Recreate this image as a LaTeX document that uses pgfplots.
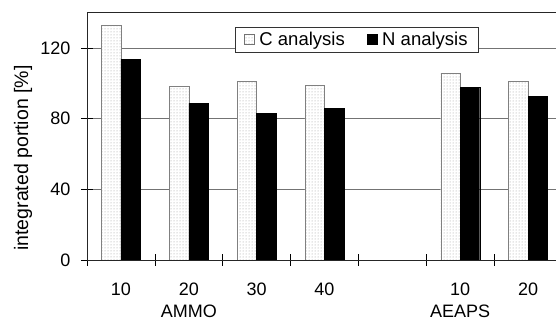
\documentclass[border=0pt]{standalone}
\usepackage{pgfplots}
\pgfplotsset{compat=1.18}
\usepackage{fontspec}
\setmainfont{Liberation Sans}
\usetikzlibrary{patterns}
\begin{document}
\begin{tikzpicture}
\begin{axis}[
  scale only axis, width=475pt, height=248pt,
  xmin=-0.5, xmax=6.5, ymin=0, ymax=140.4,
  ybar=0pt, bar width=19.5pt,
  xtick={-0.5,0.5,...,6.5},
  x tick label as interval,
  xticklabels={10,{20\\AMMO},30,40,{},{10\\AEAPS},20},
  xticklabel style={align=center, font=\fontsize{18}{22}\selectfont, yshift=-13pt},
  ytick={0,40,80,120},
  yticklabel style={font=\fontsize{18}{22}\selectfont, xshift=-7pt},
  /pgf/number format/assume math mode=true,
  tick align=center, major tick length=12pt,
  xtick pos=left, ytick pos=left,
  tick style={black, line width=0.6pt},
  axis line style={black!85, line width=0.8pt},
  ymajorgrids, major grid style={black!55, line width=0.7pt},
  every axis y label/.style={at={(axis description cs:-0.1347,0.411)}, anchor=center, rotate=90, font=\fontsize{19.5}{22}\selectfont},
  ylabel={integrated portion [\%]},
  legend style={at={(axis description cs:0.568,0.94)}, anchor=north, legend columns=2,
    draw=black!80, line width=0.6pt, font=\fontsize{18.5}{22}\selectfont,
    inner xsep=9pt, inner ysep=3pt,
    /tikz/every even column/.append style={column sep=20pt}},
]
\addplot[fill=white, draw=black!50, line width=0.4pt,
  postaction={pattern=dots, pattern color=black!40},
  legend image code/.code={\draw[fill=white,draw=black!55,line width=0.5pt] (0pt,-5pt) rectangle (10pt,5pt); \path (13pt,0pt);}]
  coordinates {(0,133) (1,98.3) (2,101) (3,99) (5,105.8) (6,101.3)};
\addplot[fill=black, draw=black, line width=0.4pt,
  legend image code/.code={\draw[fill=black,draw=black,line width=0.5pt] (0pt,-5pt) rectangle (10pt,5pt); \path (13pt,0pt);}]
  coordinates {(0,113.6) (1,88.7) (2,83) (3,85.8) (5,97.7) (6,92.6)};
\legend{C analysis, N analysis}
\end{axis}
\pgfresetboundingbox
\path[use as bounding box] (current axis.south west) ++(-87pt,-60pt) rectangle ++(556pt,320pt);
\end{tikzpicture}
\end{document}
